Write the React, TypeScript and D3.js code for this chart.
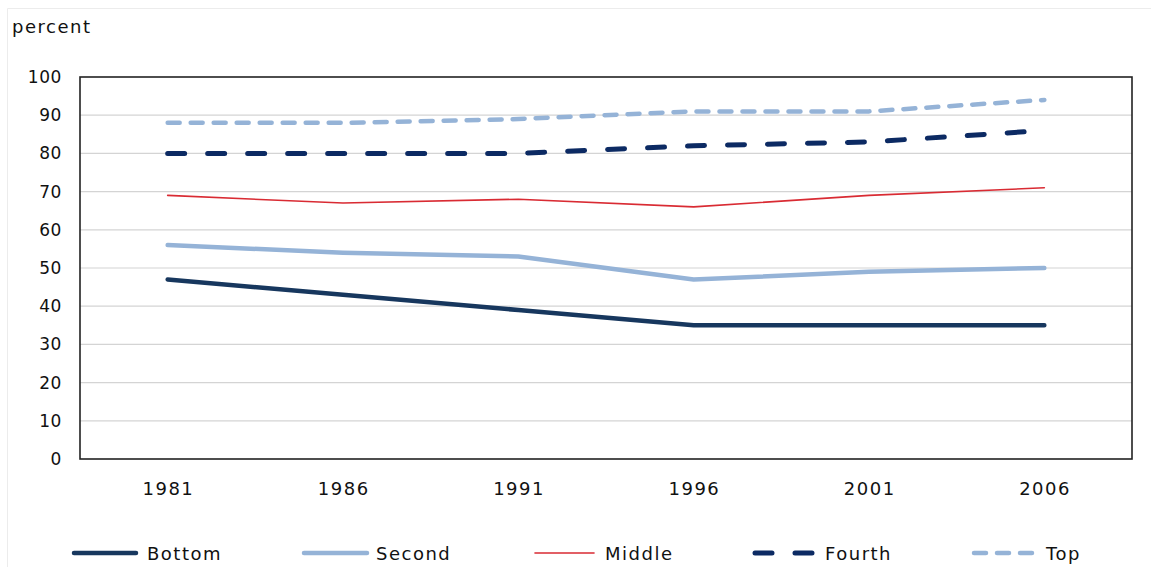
import React from "react";
import * as d3 from "d3";

const years = ["1981", "1986", "1991", "1996", "2001", "2006"];
const bottom = [47, 43, 39, 35, 35, 35];
const second = [56, 54, 53, 47, 49, 50];
const middle = [69, 67, 68, 66, 69, 71];
const fourth = [80, 80, 80, 82, 83, 86];
const top = [88, 88, 89, 91, 91, 94];
const yTicks = [0, 10, 20, 30, 40, 50, 60, 70, 80, 90, 100];

const seriesDefs = [
  { name: "Bottom", values: bottom, color: "#17375e", width: 4.5, dash: "" },
  { name: "Second", values: second, color: "#95b3d7", width: 4.5, dash: "" },
  { name: "Middle", values: middle, color: "#d92b33", width: 1.6, dash: "" },
  { name: "Fourth", values: fourth, color: "#0c2a63", width: 5, dash: "17 23" },
  { name: "Top", values: top, color: "#95b3d7", width: 4.5, dash: "12 11" },
];

const legendPos = [
  { x1: 74, x2: 136, tx: 147 },
  { x1: 304, x2: 367, tx: 376 },
  { x1: 535, x2: 594, tx: 605 },
  { x1: 755, x2: 815, tx: 825 },
  { x1: 974, x2: 1033, tx: 1046 },
];

export default function App() {
  const W = 1151, H = 567;
  const L = 80, R = 1132, T = 77, B = 459;
  const x = d3.scaleBand<string>().domain(years).range([L, R]);
  const y = d3.scaleLinear().domain([0, 100]).range([B, T]);
  const font = "'DejaVu Sans', Verdana, sans-serif";
  const line = (vals: number[]) =>
    d3.line<number>()
      .x((_, i) => (x(years[i]) as number) + x.bandwidth() / 2)
      .y((v) => y(v))(vals) as string;

  return (
    <svg width={W} height={H} style={{ position: "absolute", left: 0, top: 0 }}>
      <rect x={0} y={0} width={W} height={H} fill="#fff" />
      <line x1={7.5} y1={8.5} x2={W} y2={8.5} stroke="#ececec" strokeWidth={1} />
      <line x1={7.5} y1={8.5} x2={7.5} y2={H} stroke="#ececec" strokeWidth={1} />
      <text x={12} y={33} fontFamily={font} fontSize={18} letterSpacing={1.5} fill="#111">percent</text>
      {yTicks.map((t) => (
        <g key={t}>
          {t > 0 && t < 100 && (
            <line x1={L} x2={R} y1={y(t)} y2={y(t)} stroke="#d4d4d4" strokeWidth={1.2} />
          )}
          <text x={62} y={y(t) + 6} textAnchor="end" fontFamily={font} fontSize={17} letterSpacing={0.6} fill="#111">{t}</text>
        </g>
      ))}
      <rect x={L} y={T} width={R - L} height={B - T} fill="none" stroke="#222" strokeWidth={1.6} />
      {years.map((yr) => (
        <text key={yr} x={(x(yr) as number) + x.bandwidth() / 2 + 0.75} y={495} textAnchor="middle" fontFamily={font} fontSize={18} letterSpacing={1.5} fill="#111">{yr}</text>
      ))}
      {seriesDefs.map((s) => (
        <path key={s.name} d={line(s.values)} fill="none" stroke={s.color} strokeWidth={s.width}
          strokeDasharray={s.dash || undefined} strokeLinecap="round" strokeLinejoin="round" />
      ))}
      {seriesDefs.map((s, i) => (
        <g key={s.name}>
          <line x1={legendPos[i].x1} x2={legendPos[i].x2} y1={553} y2={553} stroke={s.color} strokeWidth={s.width}
            strokeDasharray={s.dash || undefined} strokeLinecap="round" />
          <text x={legendPos[i].tx} y={560} fontFamily={font} fontSize={18} letterSpacing={1.5} fill="#111">{s.name}</text>
        </g>
      ))}
    </svg>
  );
}
